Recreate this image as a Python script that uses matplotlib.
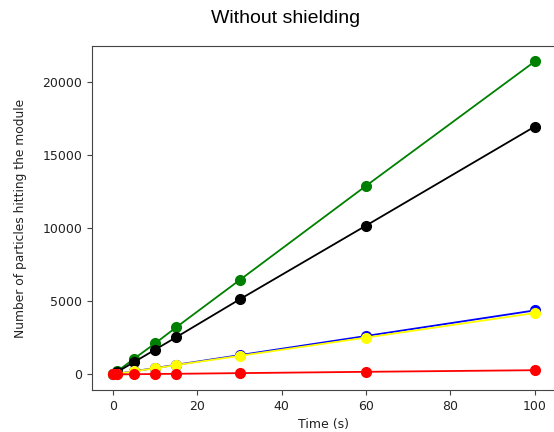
import matplotlib.pyplot as plt

time = [0, 1, 5, 10, 15, 30, 60, 100]

green = [0, 215, 1080, 2130, 3230, 6450, 12900, 21400]
black = [0, 170, 850, 1700, 2550, 5130, 10180, 16950]
blue = [0, 44, 220, 440, 660, 1320, 2630, 4380]
yellow = [0, 42, 212, 425, 640, 1270, 2520, 4200]
red = [0, 3, 15, 30, 45, 90, 180, 290]

fig = plt.figure(figsize=(5.54, 4.32), dpi=100)
ax = fig.add_axes([0.166, 0.097, 0.8375, 0.797])

for ys, c in [(green, 'green'), (black, 'black'), (blue, 'blue'),
              (yellow, 'yellow'), (red, 'red')]:
    ax.plot(time, ys, 'o-', color=c, markersize=7, linewidth=1.3)

ax.set_xlabel('Time (s)', fontsize=9, color='#222222')
ax.set_ylabel('Number of particles hitting the module', fontsize=8.8,
              color='#222222', labelpad=11)
ax.tick_params(labelsize=9, labelcolor='#222222', color='#444444')
for s in ax.spines.values():
    s.set_color('#444444')

fig.text(0.515, 0.958, 'Without shielding', ha='center', va='center',
         fontsize=14, family='Liberation Sans')

fig.savefig('out.png', dpi=100)
